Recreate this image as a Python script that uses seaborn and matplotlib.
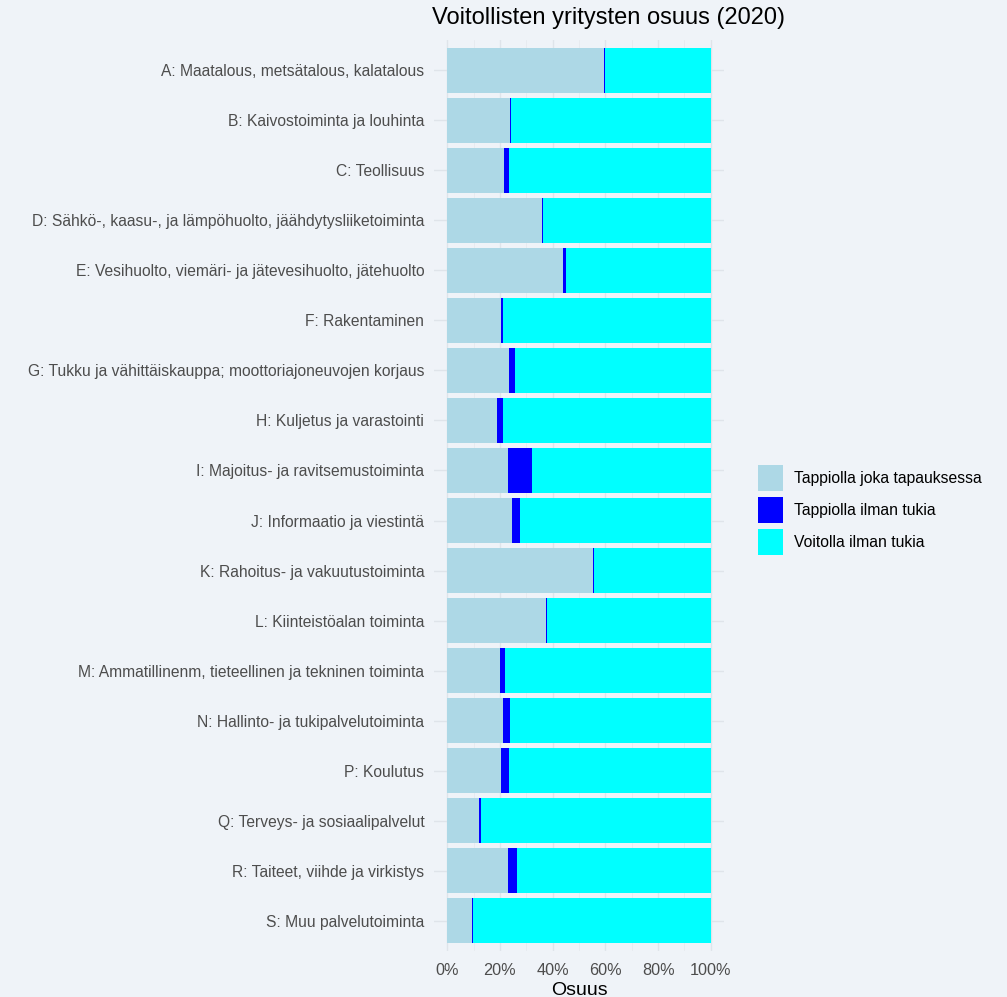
import matplotlib.pyplot as plt
import matplotlib.patches as mpatches
import matplotlib.ticker as mtick
import pandas as pd
import seaborn as sns

# toimialat
toimialat = [
    'A: Maatalous, metsätalous, kalatalous',
    'B: Kaivostoiminta ja louhinta',
    'C: Teollisuus',
    'D: Sähkö-, kaasu-, ja lämpöhuolto, jäähdytysliiketoiminta',
    'E: Vesihuolto, viemäri- ja jätevesihuolto, jätehuolto',
    'F: Rakentaminen',
    'G: Tukku ja vähittäiskauppa; moottoriajoneuvojen korjaus',
    'H: Kuljetus ja varastointi',
    'I: Majoitus- ja ravitsemustoiminta',
    'J: Informaatio ja viestintä',
    'K: Rahoitus- ja vakuutustoiminta',
    'L: Kiinteistöalan toiminta',
    'M: Ammatillinenm, tieteellinen ja tekninen toiminta',
    'N: Hallinto- ja tukipalvelutoiminta',
    'P: Koulutus',
    'Q: Terveys- ja sosiaalipalvelut',
    'R: Taiteet, viihde ja virkistys',
    'S: Muu palvelutoiminta',
]

# osuudet (0-1)
tappiolla_aina = [0.596, 0.2375, 0.216, 0.361, 0.44, 0.2025, 0.235, 0.19, 0.231,
                  0.244, 0.5525, 0.376, 0.20, 0.2125, 0.206, 0.1225, 0.229, 0.0925]
tappiolla_ilman_tukia = [0.001, 0.006, 0.02, 0.0025, 0.009, 0.009, 0.021, 0.0225, 0.09,
                         0.034, 0.0025, 0.0025, 0.021, 0.024, 0.029, 0.0075, 0.035, 0.005]

sarjat = ['Tappiolla joka tapauksessa', 'Tappiolla ilman tukia', 'Voitolla ilman tukia']
varit = ['#ADD8E6', '#0000FF', '#00FFFF']

df = pd.DataFrame({'toimiala': toimialat,
                   'aina': tappiolla_aina,
                   'ilman': tappiolla_ilman_tukia})
df['voitolla'] = 1 - df['aina'] - df['ilman']
df['kum2'] = df['aina'] + df['ilman']
df['kum3'] = df['kum2'] + df['voitolla']

bg = '#EFF3F8'
plt.rcParams['font.family'] = ['Liberation Sans', 'DejaVu Sans']

fig = plt.figure(figsize=(10.07, 9.97), dpi=100, facecolor=bg)
ax = fig.add_axes([434 / 1007, 1 - 951 / 997, 290 / 1007, 911 / 997])
ax.set_facecolor(bg)

# pinotut palkit: piirretään kumulatiiviset summat päällekkäin
sns.barplot(data=df, y='toimiala', x='kum3', color=varit[2], width=0.9,
            linewidth=0, saturation=1, ax=ax, orient='h')
sns.barplot(data=df, y='toimiala', x='kum2', color=varit[1], width=0.9,
            linewidth=0, saturation=1, ax=ax, orient='h')
sns.barplot(data=df, y='toimiala', x='aina', color=varit[0], width=0.9,
            linewidth=0, saturation=1, ax=ax, orient='h')

ax.set_xlim(-0.05, 1.05)
ax.set_ylim(len(toimialat) - 1 + 0.6, -0.6)
ax.xaxis.set_major_locator(mtick.MultipleLocator(0.2))
ax.xaxis.set_minor_locator(mtick.MultipleLocator(0.1))
ax.xaxis.set_major_formatter(mtick.PercentFormatter(1.0, decimals=0))
ax.set_axisbelow(True)
ax.grid(True, which='major', axis='both', color='#DFE4EA', linewidth=1.0)
ax.grid(True, which='minor', axis='x', color='#E6EAEF', linewidth=0.6)
for s in ax.spines.values():
    s.set_visible(False)
ax.tick_params(axis='both', which='both', length=0, labelcolor='#4D4D4D')
ax.tick_params(axis='y', labelsize=11.25, pad=7)
ax.tick_params(axis='x', labelsize=11.7, pad=8.5)
ax.set_ylabel('')
ax.set_xlabel('Osuus', fontsize=14, color='black', labelpad=3)

fig.text(608 / 1007, 1 - 18 / 997, 'Voitollisten yritysten osuus (2020)',
         ha='center', va='center', fontsize=17)

kahvat = [mpatches.Patch(facecolor=c, edgecolor='none', label=l) for c, l in zip(varit, sarjat)]
fig.legend(handles=kahvat, loc='center left', bbox_to_anchor=(744 / 1007, 1 - 510 / 997),
           frameon=False, fontsize=11.3, handlelength=1.6, handleheight=2.15,
           labelspacing=0.38, handletextpad=0.7)

fig.savefig('out.png', dpi=100, facecolor=bg)
